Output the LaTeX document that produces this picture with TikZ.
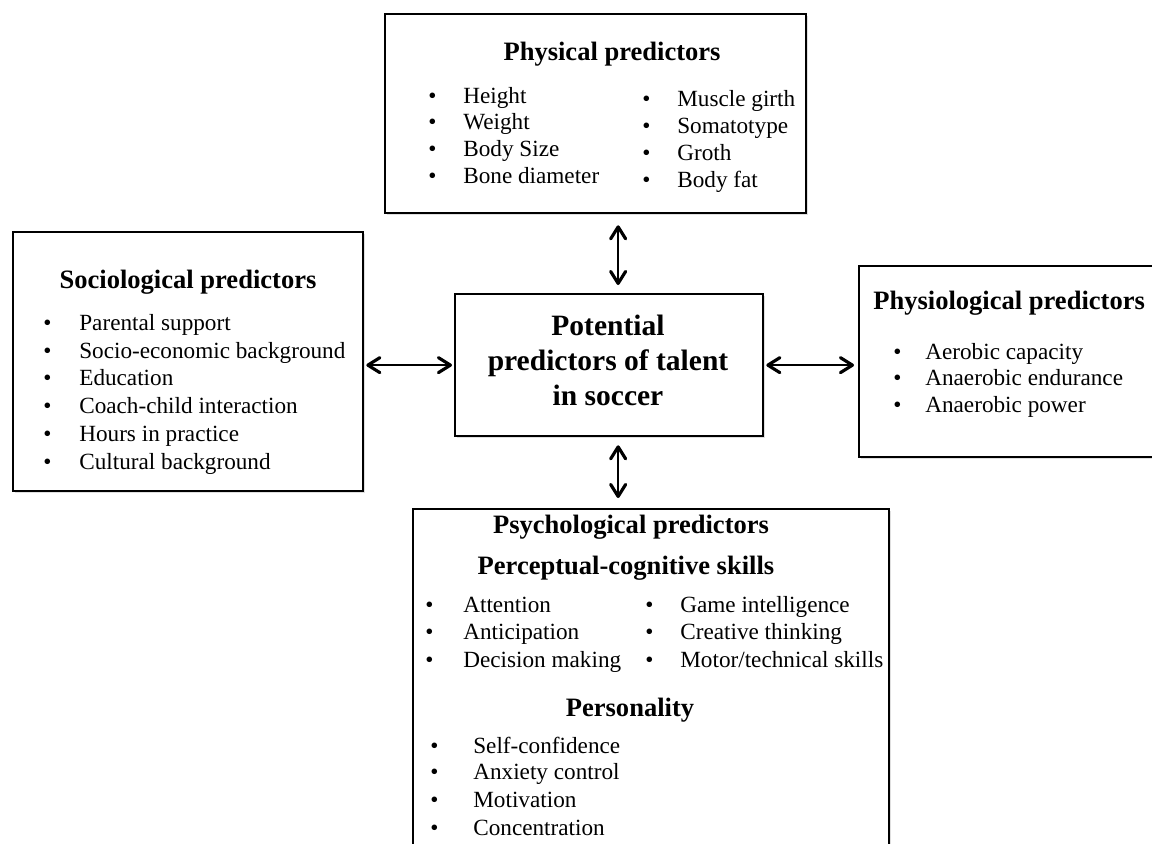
\documentclass[tikz,border=0pt]{standalone}
\usepackage{fontspec}
\setmainfont{Liberation Serif}
\usetikzlibrary{arrows.meta,shadows}
\newcommand{\bul}[1][0.7cm]{\makebox[#1][l]{\textbullet}}

\begin{document}
\begin{tikzpicture}[
  panel/.style={draw, line width=1.3pt, fill=white, anchor=north west, inner sep=0pt,
    drop shadow={shadow xshift=0.8pt, shadow yshift=-0.8pt, opacity=0.25}},
  head/.style={inner sep=0pt, font=\bfseries\fontsize{15.1}{18}\selectfont},
  item/.style={anchor=west, inner sep=0pt, text height=11pt, text depth=3pt,
    font=\fontsize{13.2}{16}\selectfont},
  link/.style={line width=1.4pt, <->},
  >={Straight Barb[length=2.4mm,width=3mm,line width=1.8pt,round]}]
\useasboundingbox (0,0) rectangle (23.04,-16.86);
\clip (0,0) rectangle (23.04,-16.86);

% Boxes
\node[panel, minimum width=8.42cm, minimum height=3.98cm] (phys) at (7.68,-0.26) {};
\node[panel, minimum width=7.00cm, minimum height=5.18cm] (socio) at (0.24,-4.62) {};
\node[panel, minimum width=6.16cm, minimum height=2.84cm] (talent) at (9.08,-5.86) {};
\node[panel, minimum width=6.40cm, minimum height=3.82cm] (physio) at (17.16,-5.30) {};
\node[panel, minimum width=9.52cm, minimum height=7.40cm] (psych) at (8.24,-10.16) {};

% Centre box
\node[align=center, inner sep=0pt, font=\bfseries\fontsize{16.8}{19.9}\selectfont]
  (talenttext) at (12.16,-7.20) {Potential\\predictors of talent\\in soccer};

% Physical predictors
\node[head] (physhead) at (12.24,-1.08) {Physical predictors};
\node[item] (ph1) at (8.56,-1.92) {\bul Height};
\node[item] (ph2) at (8.56,-2.44) {\bul Weight};
\node[item] (ph3) at (8.56,-2.98) {\bul Body Size};
\node[item] (ph4) at (8.56,-3.52) {\bul Bone diameter};
\node[item] (ph5) at (12.84,-1.98) {\bul Muscle girth};
\node[item] (ph6) at (12.84,-2.52) {\bul Somatotype};
\node[item] (ph7) at (12.84,-3.06) {\bul Groth};
\node[item] (ph8) at (12.84,-3.60) {\bul Body fat};

% Sociological predictors
\node[head] (sochead) at (3.76,-5.64) {Sociological predictors};
\node[item] (so1) at (0.86,-6.46) {\bul[0.72cm]Parental support};
\node[item] (so2) at (0.86,-7.02) {\bul[0.72cm]Socio-economic background};
\node[item] (so3) at (0.86,-7.56) {\bul[0.72cm]Education};
\node[item] (so4) at (0.86,-8.12) {\bul[0.72cm]Coach-child interaction};
\node[item] (so5) at (0.86,-8.68) {\bul[0.72cm]Hours in practice};
\node[item] (so6) at (0.86,-9.24) {\bul[0.72cm]Cultural background};

% Physiological predictors
\node[head, anchor=west] (phyhead) at (17.46,-6.06) {Physiological predictors};
\node[item] (py1) at (17.86,-7.04) {\bul[0.64cm]Aerobic capacity};
\node[item] (py2) at (17.86,-7.56) {\bul[0.64cm]Anaerobic endurance};
\node[item] (py3) at (17.86,-8.10) {\bul[0.64cm]Anaerobic power};

% Psychological predictors
\node[head] (psyhead) at (12.62,-10.54) {Psychological predictors};
\node[head] (perhead) at (12.52,-11.36) {Perceptual-cognitive skills};
\node[item] (ps1) at (8.50,-12.10) {\bul[0.76cm]Attention};
\node[item] (ps2) at (8.50,-12.64) {\bul[0.76cm]Anticipation};
\node[item] (ps3) at (8.50,-13.20) {\bul[0.76cm]Decision making};
\node[item] (ps4) at (12.90,-12.10) {\bul Game intelligence};
\node[item] (ps5) at (12.90,-12.64) {\bul Creative thinking};
\node[item] (ps6) at (12.90,-13.20) {\bul Motor/technical skills};
\node[head] (perhead2) at (12.60,-14.20) {Personality};
\node[item] (pe1) at (8.60,-14.92) {\bul[0.86cm]Self-confidence};
\node[item] (pe2) at (8.60,-15.44) {\bul[0.86cm]Anxiety control};
\node[item] (pe3) at (8.60,-16.00) {\bul[0.86cm]Motivation};
\node[item] (pe4) at (8.60,-16.56) {\bul[0.86cm]Concentration};

% Arrows
\draw[link] ([xshift=0.18cm,yshift=-0.22cm]talent.north |- phys.south)
  -- ([xshift=0.18cm,yshift=0.16cm]talent.north);
\draw[link] ([xshift=0.18cm,yshift=-0.16cm]talent.south)
  -- ([xshift=0.18cm,yshift=0.20cm]talent.south |- psych.north);
\draw[link] ([xshift=0.04cm]talent.west -| socio.east) -- ([xshift=-0.04cm]talent.west);
\draw[link] ([xshift=0.04cm]talent.east) -- ([xshift=-0.08cm]talent.east -| physio.west);
\end{tikzpicture}
\end{document}
